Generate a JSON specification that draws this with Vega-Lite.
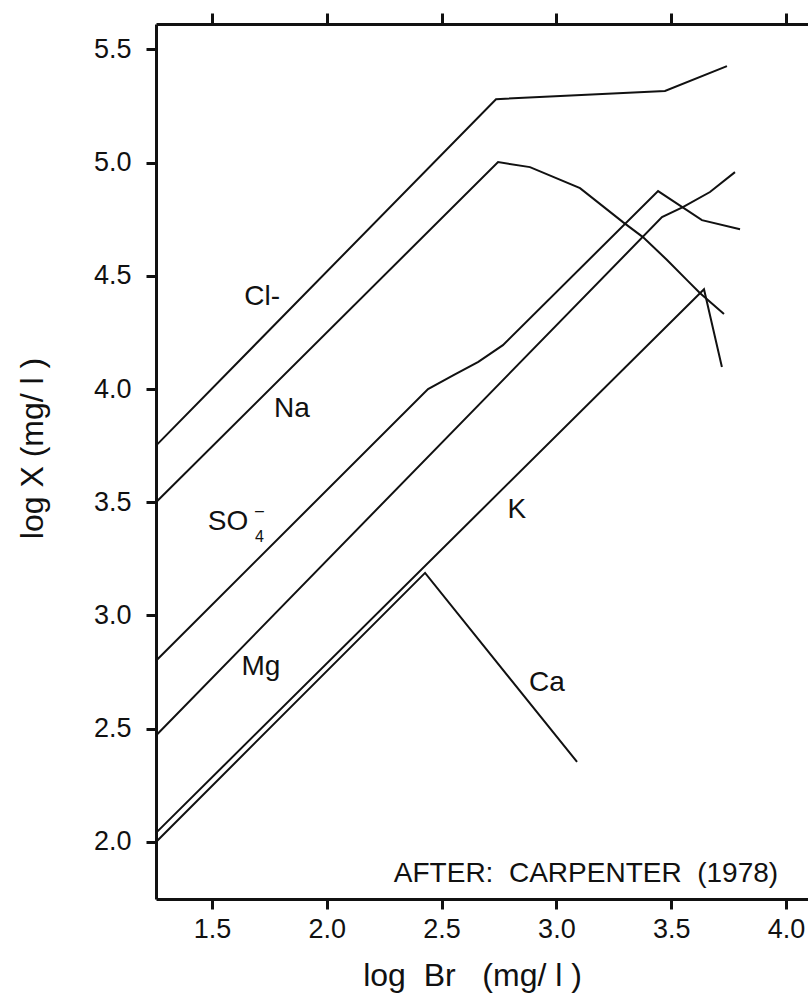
{
  "$schema": "https://vega.github.io/schema/vega-lite/v6.json",
  "width": 652,
  "height": 875,
  "autosize": {"type": "none"},
  "padding": {"left": 156, "top": 24, "right": 0, "bottom": 99},
  "background": "white",
  "config": {"view": {"stroke": null}, "font": "Liberation Sans"},
  "datasets": {
    "curves": [
      {"ion": "Cl", "ord": 1, "br": 1.256, "x": 3.75},
      {"ion": "Cl", "ord": 2, "br": 2.737, "x": 5.28},
      {"ion": "Cl", "ord": 3, "br": 3.473, "x": 5.316},
      {"ion": "Cl", "ord": 4, "br": 3.743, "x": 5.426},
      {"ion": "Na", "ord": 1, "br": 1.256, "x": 3.5},
      {"ion": "Na", "ord": 2, "br": 2.746, "x": 5.002},
      {"ion": "Na", "ord": 3, "br": 2.885, "x": 4.98},
      {"ion": "Na", "ord": 4, "br": 3.103, "x": 4.887},
      {"ion": "Na", "ord": 5, "br": 3.29, "x": 4.737},
      {"ion": "Na", "ord": 6, "br": 3.377, "x": 4.671},
      {"ion": "Na", "ord": 7, "br": 3.482, "x": 4.57},
      {"ion": "Na", "ord": 8, "br": 3.569, "x": 4.481},
      {"ion": "Na", "ord": 9, "br": 3.625, "x": 4.424},
      {"ion": "Na", "ord": 10, "br": 3.73, "x": 4.331},
      {"ion": "SO4", "ord": 1, "br": 1.256, "x": 2.8},
      {"ion": "SO4", "ord": 2, "br": 2.441, "x": 4.0},
      {"ion": "SO4", "ord": 3, "br": 2.55, "x": 4.06},
      {"ion": "SO4", "ord": 4, "br": 2.66, "x": 4.12},
      {"ion": "SO4", "ord": 5, "br": 2.767, "x": 4.194},
      {"ion": "SO4", "ord": 6, "br": 3.443, "x": 4.874},
      {"ion": "SO4", "ord": 7, "br": 3.634, "x": 4.746},
      {"ion": "SO4", "ord": 8, "br": 3.8, "x": 4.706},
      {"ion": "Mg", "ord": 1, "br": 1.256, "x": 2.47},
      {"ion": "Mg", "ord": 2, "br": 3.46, "x": 4.759},
      {"ion": "Mg", "ord": 3, "br": 3.551, "x": 4.803},
      {"ion": "Mg", "ord": 4, "br": 3.669, "x": 4.87},
      {"ion": "Mg", "ord": 5, "br": 3.778, "x": 4.958},
      {"ion": "K", "ord": 1, "br": 1.256, "x": 2.04},
      {"ion": "K", "ord": 2, "br": 3.643, "x": 4.441},
      {"ion": "K", "ord": 3, "br": 3.721, "x": 4.097},
      {"ion": "Ca", "ord": 1, "br": 1.256, "x": 2.0},
      {"ion": "Ca", "ord": 2, "br": 2.428, "x": 3.188},
      {"ion": "Ca", "ord": 3, "br": 3.09, "x": 2.353}
    ],
    "labels": [
      {"label": "Cl-", "br": 1.718, "x": 4.406},
      {"label": "Na", "br": 1.848, "x": 3.912},
      {"label": "SO", "br": 1.57, "x": 3.413},
      {"label": "Mg", "br": 1.713, "x": 2.773},
      {"label": "K", "br": 2.828, "x": 3.466},
      {"label": "Ca", "br": 2.959, "x": 2.702}
    ],
    "scripts": [
      {"label": "4", "br": 1.707, "x": 3.345},
      {"label": "–", "br": 1.707, "x": 3.46}
    ],
    "note": [
      {"label": "AFTER:\u00a0\u00a0CARPENTER\u00a0\u00a0(1978)", "br": 3.129, "x": 1.859}
    ]
  },
  "resolve": {"axis": {"x": "independent", "y": "independent"}},
  "layer": [
    {
      "data": {"name": "curves"},
      "mark": {"type": "line", "color": "#111111", "strokeWidth": 2},
      "encoding": {
        "x": {
          "field": "br", "type": "quantitative",
          "scale": {"domain": [1.256, 4.096], "nice": false, "zero": false},
          "axis": {
            "orient": "bottom", "values": [1.5, 2.0, 2.5, 3.0, 3.5, 4.0], "format": ".1f",
            "grid": false, "domainColor": "#111111", "domainWidth": 3, "tickColor": "#111111",
            "tickWidth": 3, "tickSize": 10, "labelFontSize": 27, "labelColor": "#111111",
            "labelPadding": 7, "labelFont": "Liberation Sans",
            "title": "log\u00a0\u00a0Br\u00a0\u00a0\u00a0(mg/\u00a0l\u00a0)", "titleFontSize": 32, "titleFontWeight": "normal",
            "titleColor": "#111111", "titleFont": "Liberation Sans",
            "titleX": 316, "titleY": 86, "titleBaseline": "alphabetic", "titleAlign": "center"
          }
        },
        "y": {
          "field": "x", "type": "quantitative",
          "scale": {"domain": [1.748, 5.612], "nice": false, "zero": false},
          "axis": {
            "orient": "left", "values": [2.0, 2.5, 3.0, 3.5, 4.0, 4.5, 5.0, 5.5], "format": ".1f",
            "grid": false, "domainColor": "#111111", "domainWidth": 3, "tickColor": "#111111",
            "tickWidth": 3, "tickSize": 10, "labelFontSize": 27, "labelColor": "#111111",
            "labelPadding": 15, "labelFont": "Liberation Sans",
            "title": "log X (mg/\u00a0l\u00a0)", "titleFontSize": 32, "titleFontWeight": "normal",
            "titleColor": "#111111", "titleFont": "Liberation Sans",
            "titleX": -114, "titleY": 424, "titleAngle": -90, "titleBaseline": "alphabetic", "titleAlign": "center"
          }
        },
        "detail": {"field": "ion"},
        "order": {"field": "ord", "type": "quantitative"}
      }
    },
    {
      "data": {"name": "labels"},
      "mark": {"type": "text", "fontSize": 28, "color": "#111111", "align": "center", "baseline": "middle", "font": "Liberation Sans"},
      "encoding": {
        "x": {
          "field": "br", "type": "quantitative",
          "axis": {
            "orient": "top", "values": [1.5, 2.0, 2.5, 3.0, 3.5, 4.0], "labels": false, "title": null,
            "grid": false, "domainColor": "#111111", "domainWidth": 3, "tickColor": "#111111",
            "tickWidth": 3, "tickSize": 11
          }
        },
        "y": {"field": "x", "type": "quantitative", "axis": null},
        "text": {"field": "label"}
      }
    },
    {
      "data": {"name": "scripts"},
      "mark": {"type": "text", "fontSize": 16, "color": "#111111", "align": "center", "baseline": "middle", "font": "Liberation Sans"},
      "encoding": {
        "x": {"field": "br", "type": "quantitative", "axis": null},
        "y": {"field": "x", "type": "quantitative", "axis": null},
        "text": {"field": "label"}
      }
    },
    {
      "data": {"name": "note"},
      "mark": {"type": "text", "fontSize": 28, "color": "#111111", "align": "center", "baseline": "middle", "font": "Liberation Sans"},
      "encoding": {
        "x": {"field": "br", "type": "quantitative", "axis": null},
        "y": {"field": "x", "type": "quantitative", "axis": null},
        "text": {"field": "label"}
      }
    }
  ]
}
